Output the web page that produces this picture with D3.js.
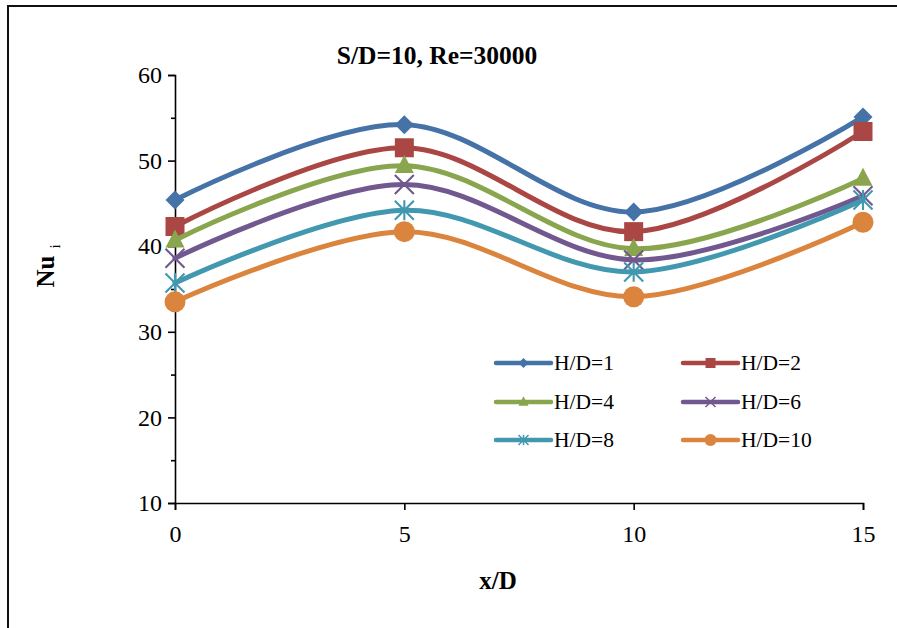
<!DOCTYPE html>
<html>
<head>
<meta charset="utf-8">
<script src="https://cdn.jsdelivr.net/npm/d3@7"></script>
<style>
  html, body { margin: 0; padding: 0; background: #fff; }
  svg { display: block; }
  text { font-family: "Liberation Serif", "Times New Roman", serif; fill: #000; }
</style>
</head>
<body>
<svg id="chart" width="897" height="628"></svg>
<script>
// Local Nusselt number along the plate, S/D = 10, Re = 30000
const xPositions = [0, 5, 10, 15];
const seriesNames = ["H/D=1", "H/D=2", "H/D=4", "H/D=6", "H/D=8", "H/D=10"];
const hd1  = [45.4, 54.2, 44.0, 55.1];
const hd2  = [42.3, 51.5, 41.7, 53.4];
const hd4  = [40.7, 49.4, 39.7, 47.9];
const hd6  = [38.6, 47.2, 38.4, 45.9];
const hd8  = [35.7, 44.2, 37.0, 45.4];
const hd10 = [33.5, 41.7, 34.1, 42.8];
const xTicks = [0, 5, 10, 15];
const yTicks = [10, 20, 30, 40, 50, 60];
const yMinorTicks = [15, 25, 35, 45, 55];

const seriesValues = [hd1, hd2, hd4, hd6, hd8, hd10];
const colors = ["#4572A7", "#AA4643", "#89A54E", "#71588F", "#4198AF", "#DB843D"];
const markers = ["diamond", "square", "triangle", "cross", "star", "circle"];

const FONT = "'Liberation Serif', 'Times New Roman', serif";
const svg = d3.select("#chart");

// outer chart frame (right and bottom edges fall outside the canvas)
svg.append("rect")
  .attr("x", 8).attr("y", 6).attr("width", 1000).attr("height", 1000)
  .attr("fill", "none").attr("stroke", "#111").attr("stroke-width", 2);

const x = d3.scaleLinear().domain([0, 15]).range([175, 863]);
const y = d3.scaleLinear().domain([10, 60]).range([503, 75]);

// y axis: major ticks with labels, unlabeled minor ticks
svg.append("g").attr("transform", `translate(${x(0)},0)`)
  .attr("font-family", FONT)
  .call(d3.axisLeft(y).tickValues(yTicks).tickSize(7).tickPadding(6).tickFormat(d3.format("d")));
svg.append("g").attr("transform", `translate(${x(0)},0)`)
  .call(d3.axisLeft(y).tickValues(yMinorTicks).tickSize(4).tickFormat(""))
  .select(".domain").remove();

svg.append("g").attr("transform", `translate(0,${y(10)})`)
  .attr("font-family", FONT)
  .call(d3.axisBottom(x).tickValues(xTicks).tickSize(7).tickPadding(15).tickFormat(d3.format("d")));

svg.selectAll(".domain").attr("stroke", "#000").attr("stroke-width", 1.6);
svg.selectAll(".tick line").attr("stroke", "#000").attr("stroke-width", 1.6);
svg.selectAll(".tick text")
  .style("font-family", FONT)
  .style("font-size", "24px").attr("fill", "#000");

// titles
svg.append("text").attr("x", 437).attr("y", 64).attr("text-anchor", "middle")
  .style("font-size", "25.5px").style("font-weight", "bold").text("S/D=10, Re=30000");
svg.append("text").attr("x", 498).attr("y", 589).attr("text-anchor", "middle")
  .style("font-size", "25px").style("font-weight", "bold").text("x/D");
const yTitle = svg.append("text")
  .attr("transform", "translate(54,266) rotate(-90)")
  .attr("text-anchor", "middle")
  .style("font-size", "25px").style("font-weight", "bold");
yTitle.append("tspan").text("Nu");
yTitle.append("tspan").attr("dx", 7).attr("dy", 6).style("font-size", "15px")
  .style("font-weight", "normal").text("i");

// marker drawing helper
function drawMarker(g, type, cx, cy, s, color) {
  if (type === "diamond") {
    const r = s / 2;
    g.append("path")
      .attr("d", `M${cx},${cy - r}L${cx + r},${cy}L${cx},${cy + r}L${cx - r},${cy}Z`)
      .attr("fill", color);
  } else if (type === "square") {
    g.append("rect").attr("x", cx - s / 2).attr("y", cy - s / 2)
      .attr("width", s).attr("height", s).attr("fill", color);
  } else if (type === "triangle") {
    const h = s * 0.95;
    g.append("path")
      .attr("d", `M${cx},${cy - h * 0.6}L${cx + s / 2},${cy + h * 0.4}L${cx - s / 2},${cy + h * 0.4}Z`)
      .attr("fill", color);
  } else if (type === "cross") {
    const r = s / 2;
    g.append("path")
      .attr("d", `M${cx - r},${cy - r}L${cx + r},${cy + r}M${cx - r},${cy + r}L${cx + r},${cy - r}`)
      .attr("stroke", color).attr("stroke-width", Math.max(1.5, s / 9)).attr("fill", "none");
  } else if (type === "star") {
    const r = s / 2;
    g.append("path")
      .attr("d", `M${cx - r},${cy - r}L${cx + r},${cy + r}M${cx - r},${cy + r}L${cx + r},${cy - r}M${cx},${cy - r * 1.05}L${cx},${cy + r * 1.05}`)
      .attr("stroke", color).attr("stroke-width", Math.max(1.5, s / 9)).attr("fill", "none");
  } else if (type === "circle") {
    g.append("circle").attr("cx", cx).attr("cy", cy).attr("r", s / 2 + 1).attr("fill", color);
  }
}

const line = d3.line()
  .x((d, i) => x(xPositions[i]))
  .y(d => y(d))
  .curve(d3.curveCatmullRom.alpha(0));

seriesValues.forEach((vals, si) => {
  const g = svg.append("g");
  g.append("path").datum(vals).attr("d", line)
    .attr("fill", "none").attr("stroke", colors[si]).attr("stroke-width", 5)
    .attr("stroke-linecap", "round");
  vals.forEach((v, i) => drawMarker(g, markers[si], x(xPositions[i]), y(v), 19, colors[si]));
});

// legend, two columns by three rows
const legendCols = [496, 683];
const legendRows = [363, 402, 440];
seriesNames.forEach((name, i) => {
  const lx = legendCols[i % 2];
  const ly = legendRows[Math.floor(i / 2)];
  const g = svg.append("g");
  g.append("line").attr("x1", lx).attr("x2", lx + 55).attr("y1", ly).attr("y2", ly)
    .attr("stroke", colors[i]).attr("stroke-width", 4.5).attr("stroke-linecap", "round");
  drawMarker(g, markers[i], lx + 27.5, ly, 10, colors[i]);
  g.append("text").attr("x", lx + 58).attr("y", ly + 7)
    .style("font-size", "21.5px").text(name);
});
</script>
</body>
</html>
